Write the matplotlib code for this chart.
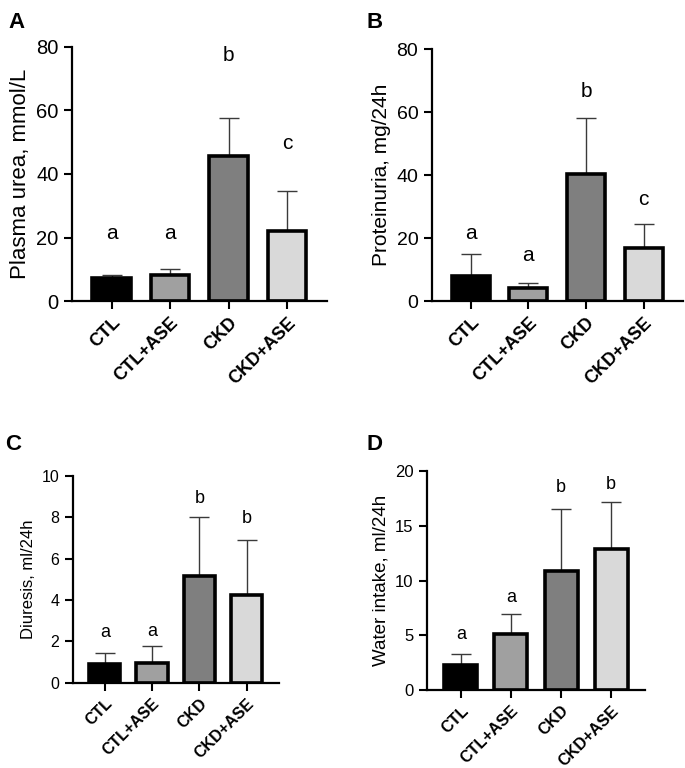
import numpy as np
import matplotlib
matplotlib.use('Agg')
import matplotlib.pyplot as plt

plt.rcParams['font.family'] = ['Liberation Sans', 'DejaVu Sans']

# Datos
grupos = ['CTL', 'CTL+ASE', 'CKD', 'CKD+ASE']
colores = ['#000000', '#a0a0a0', '#7f7f7f', '#d9d9d9']

urea_media = [7.2, 8.3, 45.5, 22.0]
urea_sup = [8.3, 10.0, 57.7, 34.7]
urea_letras = ['a', 'a', 'b', 'c']
urea_pos_letras = [21.4, 21.4, 77.4, 49.7]

prot_media = [7.8, 4.2, 40.3, 17.0]
prot_sup = [14.8, 5.8, 58.0, 24.4]
prot_letras = ['a', 'a', 'b', 'c']
prot_pos_letras = [21.6, 14.6, 66.4, 32.4]

diur_media = [0.9, 0.97, 5.16, 4.26]
diur_sup = [1.42, 1.79, 8.03, 6.92]
diur_letras = ['a', 'a', 'b', 'b']
diur_pos_letras = [2.42, 2.47, 8.9, 7.95]

agua_media = [2.25, 5.14, 10.85, 12.89]
agua_sup = [3.25, 6.93, 16.5, 17.17]
agua_letras = ['a', 'a', 'b', 'b']
agua_pos_letras = [5.1, 8.45, 18.5, 18.75]

fig = plt.figure(figsize=(6.85, 7.68), dpi=100)


def panel(pos, media, sup, letras, pos_letras, ylabel, ymax, paso, fs_tick, fs_lab, fs_let, fs_x):
    ax = fig.add_axes(pos)
    x = np.arange(len(grupos))
    media = np.array(media)
    err = np.array(sup) - media
    ax.errorbar(x, media, yerr=[np.zeros_like(err), err], fmt='none',
                ecolor='#3a3a3a', elinewidth=1.0, capsize=7, capthick=1.0, zorder=1)
    ax.bar(x, media, width=0.66, color=colores, edgecolor='black', linewidth=2.6, zorder=2)
    for xi, l, yl in zip(x, letras, pos_letras):
        ax.text(xi, yl, l, ha='center', va='center', fontsize=fs_let)
    ax.set_xlim(-0.68, 3.68)
    ax.set_ylim(0, ymax)
    ax.set_yticks(np.arange(0, ymax + 0.001, paso))
    ax.set_xticks(x)
    ax.set_xticklabels(grupos, rotation=45, ha='right', rotation_mode='anchor',
                       fontweight='bold', fontsize=fs_x)
    ax.tick_params(axis='y', labelsize=fs_tick, width=1.5, length=6)
    ax.tick_params(axis='x', width=1.5, length=6)
    ax.set_ylabel(ylabel, fontsize=fs_lab)
    for s in ['top', 'right']:
        ax.spines[s].set_visible(False)
    for s in ['left', 'bottom']:
        ax.spines[s].set_linewidth(1.6)
    ax.spines['left'].set_bounds(0, ymax)
    return ax


panel([0.105, 0.608, 0.372, 0.331], urea_media, urea_sup, urea_letras, urea_pos_letras,
      'Plasma urea, mmol/L', 80, 20, 14.5, 16, 15, 13)
panel([0.630, 0.608, 0.367, 0.328], prot_media, prot_sup, prot_letras, prot_pos_letras,
      'Proteinuria, mg/24h', 80, 20, 14, 15, 15, 13)
panel([0.106, 0.111, 0.301, 0.269], diur_media, diur_sup, diur_letras, diur_pos_letras,
      'Diuresis, ml/24h', 10, 2, 11.5, 12, 13, 11.5)
panel([0.623, 0.1016, 0.319, 0.285], agua_media, agua_sup, agua_letras, agua_pos_letras,
      'Water intake, ml/24h', 20, 5, 12, 13.5, 13, 11.7)

for etiqueta, xf, yf in [('A', 0.012, 0.985), ('B', 0.535, 0.985), ('C', 0.008, 0.435), ('D', 0.535, 0.435)]:
    fig.text(xf, yf, etiqueta, fontsize=16, fontweight='bold', va='top', ha='left')

plt.savefig('out.png', dpi=100)
